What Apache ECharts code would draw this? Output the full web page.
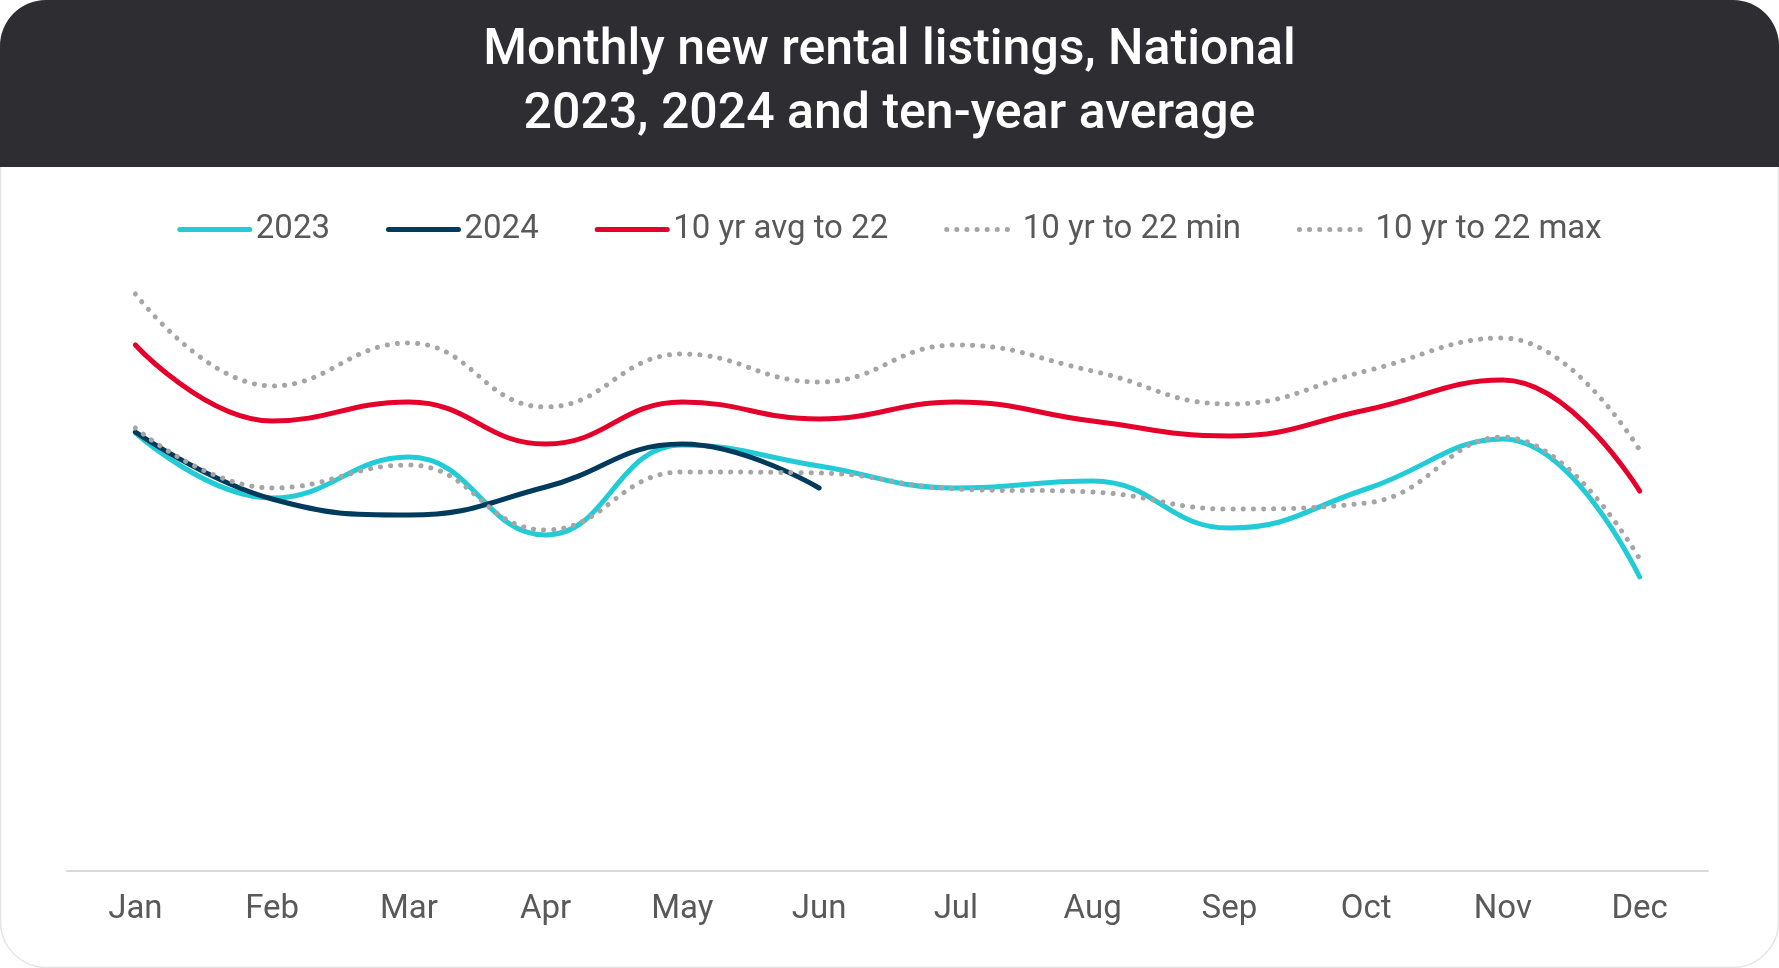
<!DOCTYPE html>
<html>
<head>
<meta charset="utf-8">
<title>Monthly new rental listings</title>
<script src="https://cdn.jsdelivr.net/npm/echarts@6/dist/echarts.min.js"></script>
<style>
  html, body { margin: 0; padding: 0; background: #fff; }
  #chart { width: 1779px; height: 968px; }
</style>
</head>
<body>
<div id="chart"></div>
<script>
// months on the x axis
const months = ['Jan', 'Feb', 'Mar', 'Apr', 'May', 'Jun', 'Jul', 'Aug', 'Sep', 'Oct', 'Nov', 'Dec'];

// values (no y axis in the original, so units are relative)
const data2023 = [43.8, 37.3, 41.4, 33.6, 42.6, 40.5, 38.3, 39.0, 34.3, 38.2, 43.2, 29.4];
const data2024 = [43.9, 37.2, 35.6, 38.4, 42.7, 38.3];
const avgTo22 = [52.6, 45.0, 46.9, 42.7, 46.9, 45.2, 46.9, 45.0, 43.5, 46.1, 49.1, 38.0];
const minTo22 = [44.3, 38.3, 40.6, 34.1, 39.9, 39.8, 38.2, 37.9, 36.2, 36.8, 43.4, 31.2];
const maxTo22 = [57.7, 48.5, 52.8, 46.4, 51.7, 48.9, 52.6, 50.0, 46.7, 50.0, 53.3, 42.1];

const chart = echarts.init(document.getElementById('chart'));

const solid = (name, data, color) => ({
    name: name,
    type: 'line',
    data: data,
    smooth: 0.45,
    symbol: 'none',
    lineStyle: { color: color, width: 5, cap: 'round' },
    itemStyle: { color: color }
});

const dotted = (name, data) => ({
    name: name,
    type: 'line',
    data: data,
    smooth: 0.45,
    symbol: 'none',
    lineStyle: { color: '#a5a5a5', width: 5, type: [0.1, 10], cap: 'round' },
    itemStyle: { color: '#a5a5a5' }
});

chart.setOption({
    backgroundColor: '#fff',
    animation: false,
    graphic: [
        {
            type: 'rect',
            z: -10,
            shape: { x: 0.5, y: 0.5, width: 1778, height: 967, r: 46 },
            style: { fill: '#fff', stroke: '#e4e4e4', lineWidth: 1.5 }
        },
        {
            type: 'rect',
            z: -5,
            shape: { x: 0, y: 0, width: 1779, height: 167, r: [46, 46, 0, 0] },
            style: { fill: '#2e2d32' }
        }
    ],
    title: {
        text: 'Monthly new rental listings, National\n2023, 2024 and ten-year average',
        left: 'center',
        top: 14,
        textStyle: {
            color: '#fff',
            fontSize: 50,
            fontWeight: 500,
            lineHeight: 64,
            fontFamily: 'Roboto'
        }
    },
    legend: {
        top: 208,
        left: 'center',
        itemWidth: 70,
        itemHeight: 20,
        itemGap: 56,
        itemStyle: { opacity: 0 },
        lineStyle: { width: 5 },
        textStyle: {
            color: '#595959',
            fontSize: 33,
            fontFamily: 'Roboto',
            padding: [0, 0, 0, 1]
        },
        data: ['2023', '2024', '10 yr avg to 22', '10 yr to 22 min', '10 yr to 22 max']
    },
    grid: {
        left: 67,
        right: 71,
        top: 271,
        bottom: 97
    },
    xAxis: {
        type: 'category',
        data: months,
        boundaryGap: true,
        axisLine: { lineStyle: { color: '#d9d9d9', width: 2 } },
        axisTick: { show: false },
        axisLabel: {
            color: '#595959',
            fontSize: 33,
            fontFamily: 'Roboto',
            margin: 22
        }
    },
    yAxis: {
        type: 'value',
        min: 0,
        max: 60,
        interval: 10,
        show: false,
        splitLine: { show: false }
    },
    series: [
        solid('2023', data2023, '#22ccd6'),
        solid('2024', data2024, '#003a5c'),
        solid('10 yr avg to 22', avgTo22, '#e4002b'),
        dotted('10 yr to 22 min', minTo22),
        dotted('10 yr to 22 max', maxTo22)
    ]
});
</script>
</body>
</html>
